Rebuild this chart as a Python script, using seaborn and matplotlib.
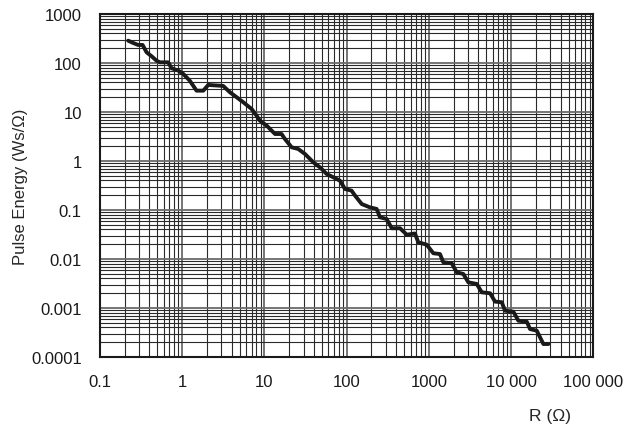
import seaborn as sns
import matplotlib.pyplot as plt
import matplotlib.ticker as mticker
import pandas as pd

sns.set_style("white")
plt.rcParams['font.family'] = ['Liberation Sans', 'DejaVu Sans']

# pulse energy curve (R in ohm, energy in Ws/ohm)
resistance = [0.221, 0.254, 0.292, 0.331, 0.370, 0.426, 0.490, 0.537, 0.678, 0.745,
              0.897, 1.03, 1.24, 1.50, 1.81, 2.08, 3.16, 3.82, 4.60, 5.54,
              7.01, 8.06, 8.84, 10.7, 13.5, 16.2, 17.8, 21.5, 25.8, 31.2,
              39.4, 47.4, 57.3, 68.9, 83.2, 95.7, 115, 127, 153, 193,
              232, 255, 307, 354, 447, 539, 679, 745, 942, 1135,
              1368, 1500, 1900, 2184, 2630, 3027, 3830, 4405, 5560, 6390,
              7710, 8450, 10670, 12270, 15530, 17030, 20550, 23620, 24720, 28430]
energy = [285, 256, 233, 233, 165, 137, 111, 103, 103, 78,
          70, 60, 43.5, 27.2, 27.2, 35.6, 34, 25.2, 20.0, 15.8,
          11.5, 8.40, 6.64, 5.25, 3.55, 3.55, 2.81, 1.90, 1.76, 1.39,
          0.94, 0.743, 0.543, 0.465, 0.396, 0.268, 0.248, 0.196, 0.132, 0.113,
          0.105, 0.071, 0.0655, 0.0424, 0.0424, 0.0313, 0.0331, 0.0219, 0.0196, 0.0131,
          0.0126, 0.00857, 0.00817, 0.00535, 0.00494, 0.00334, 0.00309, 0.00209, 0.00200, 0.00135,
          0.00131, 0.000881, 0.000840, 0.000551, 0.000525, 0.000372, 0.000344, 0.000215, 0.000184, 0.000184]

x_ticks = [0.1, 1, 10, 100, 1000, 10000, 100000]
x_labels = ["0.1", "1", "10", "100", "1000", "10 000", "100 000"]
y_ticks = [0.0001, 0.001, 0.01, 0.1, 1, 10, 100, 1000]
y_labels = ["0.0001", "0.001", "0.01", "0.1", "1", "10", "100", "1000"]

df = pd.DataFrame({"R": resistance, "E": energy})

fig = plt.figure(figsize=(6.4, 4.27), dpi=100)
ax = fig.add_axes([0.156, 0.1616, 0.771, 0.8034])

ax.set_xscale("log")
ax.set_yscale("log")
ax.set_xlim(0.1, 100000)
ax.set_ylim(0.0001, 1000)

sns.lineplot(data=df, x="R", y="E", ax=ax, color="#1a1a1a", linewidth=2.8,
             estimator=None, sort=False, zorder=5)

ax.xaxis.set_major_locator(mticker.FixedLocator(x_ticks))
ax.yaxis.set_major_locator(mticker.FixedLocator(y_ticks))
ax.xaxis.set_minor_locator(mticker.LogLocator(base=10, subs=range(2, 10), numticks=50))
ax.yaxis.set_minor_locator(mticker.LogLocator(base=10, subs=range(2, 10), numticks=50))
ax.set_xticklabels(x_labels)
ax.set_yticklabels(y_labels)
ax.xaxis.set_minor_formatter(mticker.NullFormatter())
ax.yaxis.set_minor_formatter(mticker.NullFormatter())

ax.grid(which="major", color="#6a6a6a", linewidth=1.3)
ax.grid(which="minor", color="#2a2a2a", linewidth=0.8)
ax.tick_params(which="both", length=0, labelsize=12, colors="#1a1a1a")
ax.xaxis.set_tick_params(which="major", pad=12)
ax.yaxis.set_tick_params(which="major", pad=13)

for s in ax.spines.values():
    s.set_color("#1a1a1a")
    s.set_linewidth(1.5)

ax.set_xlabel("R (\u03a9)", fontsize=12.5)
ax.set_ylabel("Pulse Energy (Ws/\u03a9)", fontsize=12)
ax.xaxis.set_label_coords(0.912, -0.15)
ax.yaxis.set_label_coords(-0.146, 0.5)

plt.savefig("out.png", dpi=100)
